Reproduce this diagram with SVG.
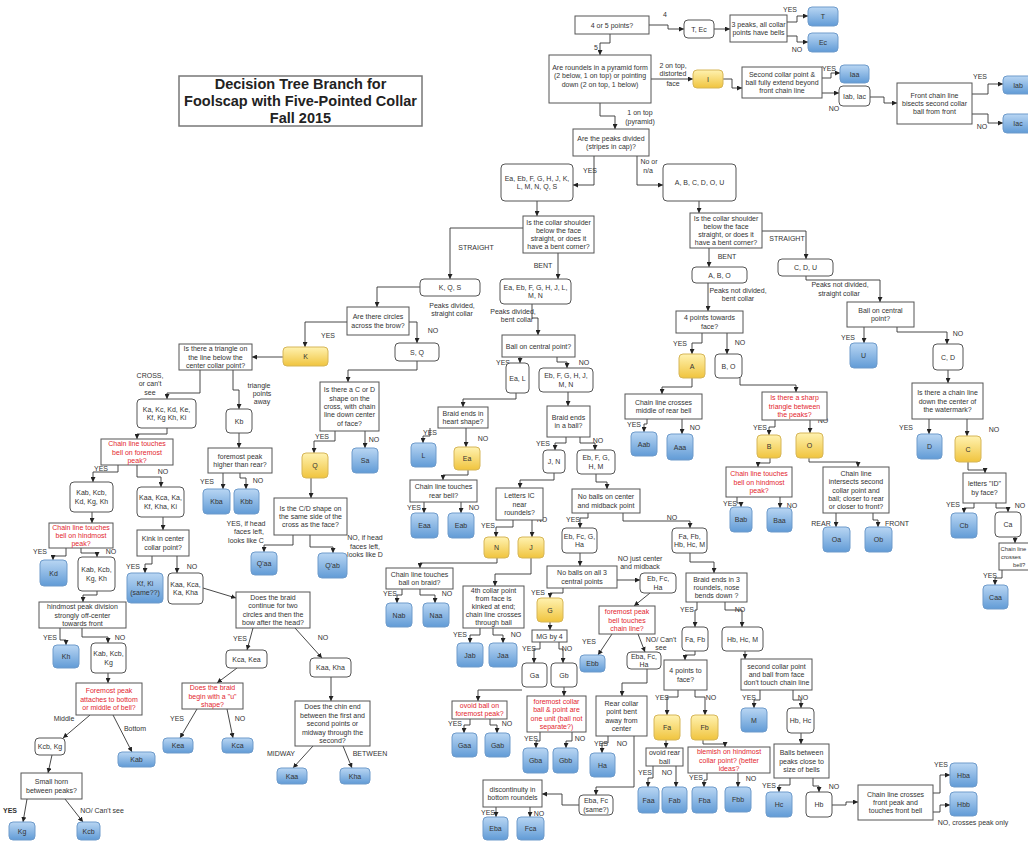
<svg xmlns="http://www.w3.org/2000/svg" width="1028" height="842" viewBox="0 0 1028 842">
<defs>
<linearGradient id="gb" x1="0" y1="0" x2="0" y2="1"><stop offset="0" stop-color="#b9d6f3"/><stop offset="1" stop-color="#619bd6"/></linearGradient>
<linearGradient id="gy" x1="0" y1="0" x2="0" y2="1"><stop offset="0" stop-color="#fff2b0"/><stop offset="1" stop-color="#f0c43e"/></linearGradient>
<marker id="ar" viewBox="0 0 6 6" refX="6" refY="3" markerWidth="5" markerHeight="5" markerUnits="userSpaceOnUse" orient="auto"><path d="M0,0L6,3L0,6z" fill="#222"/></marker>
<style>
.b{fill:#fff;stroke:#555;stroke-width:1}
.r{fill:#fff;stroke:#555;stroke-width:1;rx:4px;ry:4px}
.lf{fill:url(#gb);stroke:#6e9bcb;stroke-width:1;rx:4px;ry:4px}
.y{fill:url(#gy);stroke:#d6b658;stroke-width:1;rx:4px;ry:4px}
.t,.lb{font-family:"Liberation Sans",Arial,sans-serif;font-size:7px;fill:#333;text-anchor:middle}
.rt{fill:#e3262f}
.st{text-anchor:start;font-size:5.8px}
.ti{font-family:"Liberation Sans",Arial,sans-serif;font-size:14.5px;font-weight:bold;fill:#222;text-anchor:middle}
.bo{font-weight:bold}
#conn path{fill:none;stroke:#333;stroke-width:0.9;marker-end:url(#ar)}
</style>
</defs>
<rect width="1028" height="842" fill="#fff"/>

<g id="title"><rect x="179" y="76" width="243" height="50" fill="#fff" stroke="#777" stroke-width="1.5"/>
<text class="ti"><tspan x="300.5" y="89">Decision Tree Branch for</tspan><tspan x="300.5" y="106">Foolscap with Five-Pointed Collar</tspan><tspan x="300.5" y="123">Fall 2015</tspan></text></g>

<g id="conn">
<path d="M610,34V43H600V55"/>
<path d="M649,25H668V29H684"/>
<path d="M714,29H730"/>
<path d="M787,22H797V16H808"/>
<path d="M787,36H797V42H808"/>
<path d="M651,79H693"/>
<path d="M723,79H732V88H742"/>
<path d="M822,78H831V73H840"/>
<path d="M822,93H839"/>
<path d="M870,97H884V103H897"/>
<path d="M972,94H988V84H1003"/>
<path d="M972,114H988V123H1003"/>
<path d="M600,103V116H615V129"/>
<path d="M594,156V185H573"/>
<path d="M637,156V185H663"/>
<path d="M537,201V216"/>
<path d="M699,201V213"/>
<path d="M523,228H450V279"/>
<path d="M558,253V279"/>
<path d="M709,248V267"/>
<path d="M762,231H806V259"/>
<path d="M708,283V311"/>
<path d="M806,276V280H880V302"/>
<path d="M420,287H377V307"/>
<path d="M532,304V318H538V335"/>
<path d="M347,322H305V347"/>
<path d="M409,322H417V343"/>
<path d="M283,357H252"/>
<path d="M200,370V393H167V399"/>
<path d="M233,370V390H239V409"/>
<path d="M167,428V434H137V439"/>
<path d="M239,433V448"/>
<path d="M118,465V472H93V482"/>
<path d="M137,465V477H161V487"/>
<path d="M223,473V489"/>
<path d="M240,473V478H246V489"/>
<path d="M92,512V523"/>
<path d="M66,548V556H53V560"/>
<path d="M81,548V553H97V557"/>
<path d="M163,517V530"/>
<path d="M152,556V564H145V573"/>
<path d="M177,556V573"/>
<path d="M97,591V595H83V602"/>
<path d="M60,628V640H66V645"/>
<path d="M82,628V637H108V643"/>
<path d="M108,673V683"/>
<path d="M90,715L63,738"/>
<path d="M113,715L132,752"/>
<path d="M52,755L48,773"/>
<path d="M27,799L23,822"/>
<path d="M65,799L83,822"/>
<path d="M203,588L236,598"/>
<path d="M253,628L247,650"/>
<path d="M295,628L322,658"/>
<path d="M237,668L217,683"/>
<path d="M197,709L180,738"/>
<path d="M227,709L233,738"/>
<path d="M331,677V701"/>
<path d="M313,746L293,768"/>
<path d="M343,746L352,768"/>
<path d="M417,361V370H348V382"/>
<path d="M335,431V441H314V453"/>
<path d="M365,431V448"/>
<path d="M311,478V498"/>
<path d="M293,535V545H264V552"/>
<path d="M310,535V547H333V553"/>
<path d="M520,357V363"/>
<path d="M557,357V362H567V368"/>
<path d="M516,393V399H463V407"/>
<path d="M430,428V436H423V443"/>
<path d="M466,428V447"/>
<path d="M468,470V475H443V480"/>
<path d="M424,502V513"/>
<path d="M461,502V513"/>
<path d="M568,392V406"/>
<path d="M566,437V443H555V450"/>
<path d="M580,437V443H595V450"/>
<path d="M554,473V480H520V488"/>
<path d="M513,520V527H496V537"/>
<path d="M532,520V537"/>
<path d="M497,558V563H420V568"/>
<path d="M531,558V574H495V586"/>
<path d="M402,589V595H397V603"/>
<path d="M420,589V595H435V603"/>
<path d="M480,628V635H470V643"/>
<path d="M493,628V635H503V643"/>
<path d="M596,474V482H607V489"/>
<path d="M588,513V518H580V528"/>
<path d="M623,513V521H690V528"/>
<path d="M580,553V566"/>
<path d="M563,588V593H550V598"/>
<path d="M617,580H640"/>
<path d="M550,622V630"/>
<path d="M540,642V649H534V663"/>
<path d="M559,642V649H563V663"/>
<path d="M522,690H478V701"/>
<path d="M564,687V696"/>
<path d="M470,719V725H464V733"/>
<path d="M490,719V725H497V733"/>
<path d="M540,732V741H536V748"/>
<path d="M572,732V741H566V748"/>
<path d="M650,593L634,606"/>
<path d="M612,634L598,655"/>
<path d="M638,634L645,652"/>
<path d="M647,669V683H622V696"/>
<path d="M608,736V743H602V753"/>
<path d="M634,736V787H596V795"/>
<path d="M579,805H562V794H542"/>
<path d="M496,807V817"/>
<path d="M530,807V817"/>
<path d="M690,553V562H714V573"/>
<path d="M697,602V610H695V627"/>
<path d="M725,602V610H742V627"/>
<path d="M695,651V655H685V660"/>
<path d="M745,651V659"/>
<path d="M678,690V697H667V715"/>
<path d="M695,690V697H705V715"/>
<path d="M666,740V748"/>
<path d="M703,740V744H725V747"/>
<path d="M653,766V778H648V787"/>
<path d="M676,766V787"/>
<path d="M707,773V780H704V787"/>
<path d="M738,773V787"/>
<path d="M760,690V700H754V708"/>
<path d="M793,690V700H801V708"/>
<path d="M801,733V744"/>
<path d="M790,778V785H779V792"/>
<path d="M813,778V786H819V792"/>
<path d="M832,805H846V802H858"/>
<path d="M933,793H940V775H950"/>
<path d="M933,812H940V805H950"/>
<path d="M692,378V387H662V394"/>
<path d="M647,419V424H644V432"/>
<path d="M682,419V434"/>
<path d="M702,333V343H692V354"/>
<path d="M727,333V354"/>
<path d="M740,378V385H796V392"/>
<path d="M775,420V427H769V435"/>
<path d="M810,420V433"/>
<path d="M770,458V463H758V467"/>
<path d="M737,497V503H741V507"/>
<path d="M780,497V508"/>
<path d="M809,458V462H858V467"/>
<path d="M836,513V527"/>
<path d="M873,513V520H878V527"/>
<path d="M864,327V343"/>
<path d="M897,327V332H947V344"/>
<path d="M948,370V383"/>
<path d="M929,419V434"/>
<path d="M967,419V436"/>
<path d="M968,462V470H985V473"/>
<path d="M974,503V508H964V513"/>
<path d="M996,503V508H1008V512"/>
<path d="M1015,537V543"/>
<path d="M1002,570V578H995V585"/>
</g>

<g id="labels">
<text class="lb" x="665" y="17">4</text>
<text class="lb" x="596" y="49.5">5</text>
<text class="lb" x="790" y="12">YES</text>
<text class="lb" x="797" y="52">NO</text>
<text class="lb"><tspan x="673" y="67.5">2 on top,</tspan><tspan x="673" y="75.5">distorted</tspan><tspan x="673" y="86">face</tspan></text>
<text class="lb" x="829" y="71">YES</text>
<text class="lb" x="834" y="110.5">NO</text>
<text class="lb" x="980" y="78.5">YES</text>
<text class="lb" x="982" y="128.5">NO</text>
<text class="lb"><tspan x="640" y="114.5">1 on top</tspan><tspan x="640" y="124">(pyramid)</tspan></text>
<text class="lb" x="590" y="172.5">YES</text>
<text class="lb"><tspan x="649" y="163.5">No or</tspan><tspan x="648" y="172.5">n/a</tspan></text>
<text class="lb" x="476" y="249.5">STRAIGHT</text>
<text class="lb" x="543" y="267.5">BENT</text>
<text class="lb" x="727" y="258.5">BENT</text>
<text class="lb" x="787" y="241">STRAIGHT</text>
<text class="lb"><tspan x="738" y="292.5">Peaks not divided,</tspan><tspan x="738" y="301">bent collar</tspan></text>
<text class="lb"><tspan x="840" y="287">Peaks not divided,</tspan><tspan x="839" y="295.5">straight collar</tspan></text>
<text class="lb"><tspan x="452" y="307.5">Peaks divided,</tspan><tspan x="452" y="316">straight collar</tspan></text>
<text class="lb"><tspan x="513" y="313.5">Peaks divided,</tspan><tspan x="517" y="322">bent collar</tspan></text>
<text class="lb" x="328" y="338">YES</text>
<text class="lb" x="433" y="333">NO</text>
<text class="lb"><tspan x="150" y="377.5">CROSS,</tspan><tspan x="150" y="386">or can't</tspan><tspan x="150" y="394.5">see</tspan></text>
<text class="lb"><tspan x="259" y="387.5">triangle</tspan><tspan x="262" y="395.5">points</tspan><tspan x="262" y="404">away</tspan></text>
<text class="lb" x="101" y="471">YES</text>
<text class="lb" x="163" y="474">NO</text>
<text class="lb" x="207" y="484">YES</text>
<text class="lb" x="258" y="483">NO</text>
<text class="lb" x="40" y="554">YES</text>
<text class="lb" x="111" y="554">NO</text>
<text class="lb" x="133" y="568.5">YES</text>
<text class="lb" x="192" y="568.5">NO</text>
<text class="lb"><tspan x="246" y="525.5">YES, if head</tspan><tspan x="249" y="534">faces left,</tspan><tspan x="246" y="543">looks like C</tspan></text>
<text class="lb"><tspan x="365" y="539.5">NO, if head</tspan><tspan x="365" y="548.5">faces left,</tspan><tspan x="365" y="556.5">looks like D</tspan></text>
<text class="lb" x="50" y="639.5">YES</text>
<text class="lb" x="120" y="639.5">NO</text>
<text class="lb" x="64" y="720.5">Middle</text>
<text class="lb" x="135" y="730.5">Bottom</text>
<text class="lb bo" x="10" y="812.5">YES</text>
<text class="lb" x="102" y="812.5">NO/ Can't see</text>
<text class="lb" x="240" y="641">YES</text>
<text class="lb" x="323" y="639.5">NO</text>
<text class="lb" x="177" y="720.5">YES</text>
<text class="lb" x="240" y="720.5">NO</text>
<text class="lb" x="281" y="755.5">MIDWAY</text>
<text class="lb" x="370" y="755.5">BETWEEN</text>
<text class="lb" x="322" y="439">YES</text>
<text class="lb" x="374" y="441.5">NO</text>
<text class="lb" x="503" y="364.5">YES</text>
<text class="lb" x="584" y="364.5">NO</text>
<text class="lb" x="430" y="435">YES</text>
<text class="lb" x="483" y="440.5">NO</text>
<text class="lb" x="414" y="509.5">YES</text>
<text class="lb" x="474" y="509.5">NO</text>
<text class="lb" x="543" y="445.5">YES</text>
<text class="lb" x="598" y="442.5">NO</text>
<text class="lb" x="488" y="527.5">YES</text>
<text class="lb" x="542" y="521.5">NO</text>
<text class="lb" x="390" y="595.5">YES</text>
<text class="lb" x="447" y="595.5">NO</text>
<text class="lb" x="460" y="636.5">YES</text>
<text class="lb" x="516" y="636.5">NO</text>
<text class="lb" x="573" y="521.5">YES</text>
<text class="lb" x="672" y="519.5">NO</text>
<text class="lb" x="538" y="594.5">YES</text>
<text class="lb"><tspan x="640" y="560.5">NO just center</tspan><tspan x="640" y="568.5">and midback</tspan></text>
<text class="lb" x="529" y="650.5">YES</text>
<text class="lb" x="567" y="650.5">NO</text>
<text class="lb" x="455" y="725.5">YES</text>
<text class="lb" x="507" y="725.5">NO</text>
<text class="lb" x="531" y="740.5">YES</text>
<text class="lb" x="580" y="740.5">NO</text>
<text class="lb" x="589" y="643.5">YES</text>
<text class="lb"><tspan x="661" y="641.5">NO/ Can't</tspan><tspan x="661" y="649.5">see</tspan></text>
<text class="lb" x="601" y="745.5">YES</text>
<text class="lb" x="622" y="745.5">NO</text>
<text class="lb" x="488" y="814.5">YES</text>
<text class="lb" x="539" y="815.5">NO</text>
<text class="lb" x="687" y="611.5">YES</text>
<text class="lb" x="740" y="611.5">NO</text>
<text class="lb" x="662" y="699.5">YES</text>
<text class="lb" x="711" y="699.5">NO</text>
<text class="lb" x="645" y="774.5">YES</text>
<text class="lb" x="667" y="774.5">NO</text>
<text class="lb" x="696" y="779.5">YES</text>
<text class="lb" x="751" y="780.5">NO</text>
<text class="lb" x="749" y="699.5">YES</text>
<text class="lb" x="803" y="699.5">NO</text>
<text class="lb" x="769" y="787.5">YES</text>
<text class="lb" x="834" y="788.5">NO</text>
<text class="lb" x="941" y="766.5">YES</text>
<text class="lb" x="973" y="824.5">NO, crosses peak only</text>
<text class="lb" x="634" y="426.5">YES</text>
<text class="lb" x="695" y="429.5">NO</text>
<text class="lb" x="680" y="345.5">YES</text>
<text class="lb" x="740" y="344.5">NO</text>
<text class="lb" x="760" y="429.5">YES</text>
<text class="lb" x="823" y="422.5">NO</text>
<text class="lb" x="730" y="505.5">YES</text>
<text class="lb" x="792" y="507.5">NO</text>
<text class="lb" x="821" y="525.5">REAR</text>
<text class="lb" x="897" y="525.5">FRONT</text>
<text class="lb" x="848" y="339.5">YES</text>
<text class="lb" x="958" y="335.5">NO</text>
<text class="lb" x="906" y="429.5">YES</text>
<text class="lb" x="994" y="431.5">NO</text>
<text class="lb" x="953" y="506.5">YES</text>
<text class="lb" x="1020" y="507.5">NO</text>
<text class="lb" x="990" y="577.5">YES</text>
</g>

<g id="q45"><rect class="b" x="575" y="16" width="74" height="18"/><text class="t" x="612" y="27.5">4 or 5 points?</text></g>
<g id="tec"><rect class="r" x="684" y="20" width="30" height="18"/><text class="t" x="699" y="31.5">T, Ec</text></g>
<g id="pk3"><rect class="b" x="730" y="15" width="57" height="27"/><text class="t"><tspan x="758.5" y="26.85">3 peaks, all collar</tspan><tspan x="758.5" y="35.15">points have bells</tspan></text></g>
<g id="T"><rect class="lf" x="808" y="7" width="30" height="19"/><text class="t" x="823" y="19">T</text></g>
<g id="Ec"><rect class="lf" x="808" y="33" width="30" height="19"/><text class="t" x="823" y="45">Ec</text></g>
<g id="pyr"><rect class="b" x="549" y="55" width="102" height="48"/><text class="t"><tspan x="600" y="70">Are roundels in a pyramid form</tspan><tspan x="600" y="78.3">(2 below, 1 on top) or pointing</tspan><tspan x="600" y="86.6">down (2 on top, 1 below)</tspan></text></g>
<g id="I"><rect class="y" x="693" y="70" width="30" height="18"/><text class="t" x="708" y="81.5">I</text></g>
<g id="sec"><rect class="b" x="742" y="67" width="80" height="31"/><text class="t"><tspan x="782" y="76.7">Second collar point &amp;</tspan><tspan x="782" y="85">ball fully extend beyond</tspan><tspan x="782" y="93.3">front chain line</tspan></text></g>
<g id="Iaa"><rect class="lf" x="840" y="65" width="29" height="18"/><text class="t" x="854.5" y="76.5">Iaa</text></g>
<g id="iabiac"><rect class="r" x="839" y="86" width="31" height="20"/><text class="t" x="854.5" y="98.5">Iab, Iac</text></g>
<g id="front"><rect class="b" x="897" y="83" width="75" height="41"/><text class="t"><tspan x="934.5" y="97.7">Front chain line</tspan><tspan x="934.5" y="106">bisects second collar</tspan><tspan x="934.5" y="114.3">ball from front</tspan></text></g>
<g id="Iab"><rect class="lf" x="1003" y="76" width="30" height="18"/><text class="t" x="1018" y="87.5">Iab</text></g>
<g id="Iac"><rect class="lf" x="1003" y="114" width="30" height="19"/><text class="t" x="1018" y="126">Iac</text></g>
<g id="peaks"><rect class="b" x="573" y="129" width="76" height="27"/><text class="t"><tspan x="611" y="140.85">Are the peaks divided</tspan><tspan x="611" y="149.15">(stripes in cap)?</tspan></text></g>
<g id="eaeb"><rect class="r" x="501" y="164" width="72" height="37"/><text class="t"><tspan x="537" y="180.85">Ea, Eb, F, G, H, J, K,</tspan><tspan x="537" y="189.15">L, M, N, Q, S</tspan></text></g>
<g id="abcdou"><rect class="r" x="663" y="164" width="73" height="37"/><text class="t" x="699.5" y="185">A, B, C, D, O, U</text></g>
<g id="colL"><rect class="b" x="523" y="216" width="71" height="37"/><text class="t"><tspan x="558.5" y="224.55">Is the collar shoulder</tspan><tspan x="558.5" y="232.85">below the face</tspan><tspan x="558.5" y="241.15">straight, or does it</tspan><tspan x="558.5" y="249.45">have a bent corner?</tspan></text></g>
<g id="colR"><rect class="b" x="690" y="213" width="72" height="35"/><text class="t"><tspan x="726" y="220.55">Is the collar shoulder</tspan><tspan x="726" y="228.85">below the face</tspan><tspan x="726" y="237.15">straight, or does it</tspan><tspan x="726" y="245.45">have a bent corner?</tspan></text></g>
<g id="kqs"><rect class="r" x="420" y="279" width="60" height="17"/><text class="t" x="450" y="290">K, Q, S</text></g>
<g id="eabent"><rect class="r" x="500" y="279" width="71" height="25"/><text class="t"><tspan x="535.5" y="289.85">Ea, Eb, F, G, H, J, L,</tspan><tspan x="535.5" y="298.15">M, N</tspan></text></g>
<g id="cdu"><rect class="r" x="778" y="259" width="55" height="17"/><text class="t" x="805.5" y="270">C, D, U</text></g>
<g id="abo"><rect class="r" x="692" y="267" width="55" height="16"/><text class="t" x="719.5" y="277.5">A, B, O</text></g>
<g id="circles"><rect class="b" x="347" y="307" width="62" height="28"/><text class="t"><tspan x="378" y="319.35">Are there circles</tspan><tspan x="378" y="327.65">across the brow?</tspan></text></g>
<g id="K"><rect class="y" x="283" y="347" width="45" height="19"/><text class="t" x="305.5" y="359">K</text></g>
<g id="sq"><rect class="r" x="395" y="343" width="44" height="18"/><text class="t" x="417" y="354.5">S, Q</text></g>
<g id="tri"><rect class="b" x="179" y="344" width="73" height="26"/><text class="t"><tspan x="215.5" y="351.2">Is there a triangle on</tspan><tspan x="215.5" y="359.5">the line below the</tspan><tspan x="215.5" y="367.8">center collar point?</tspan></text></g>
<g id="kaK"><rect class="r" x="137" y="399" width="59" height="29"/><text class="t"><tspan x="166.5" y="411.85">Ka, Kc, Kd, Ke,</tspan><tspan x="166.5" y="420.15">Kf, Kg Kh, Ki</tspan></text></g>
<g id="kb"><rect class="r" x="226" y="409" width="26" height="24"/><text class="t" x="239" y="423.5">Kb</text></g>
<g id="chf"><rect class="b" x="101" y="439" width="72" height="26"/><text class="t rt"><tspan x="137" y="446.2">Chain line touches</tspan><tspan x="137" y="454.5">bell on foremost</tspan><tspan x="137" y="462.8">peak?</tspan></text></g>
<g id="fph"><rect class="b" x="208" y="448" width="64" height="25"/><text class="t"><tspan x="240" y="458.85">foremost peak</tspan><tspan x="240" y="467.15">higher than rear?</tspan></text></g>
<g id="kab5"><rect class="r" x="70" y="482" width="43" height="30"/><text class="t"><tspan x="91.5" y="495.35">Kab, Kcb,</tspan><tspan x="91.5" y="503.65">Kd, Kg, Kh</tspan></text></g>
<g id="kaa6"><rect class="r" x="137" y="487" width="47" height="30"/><text class="t"><tspan x="160.5" y="500.35">Kaa, Kca, Ka,</tspan><tspan x="160.5" y="508.65">Kf, Kha, Ki</tspan></text></g>
<g id="Kba"><rect class="lf" x="203" y="489" width="27" height="25"/><text class="t" x="216.5" y="504">Kba</text></g>
<g id="Kbb"><rect class="lf" x="234" y="489" width="25" height="25"/><text class="t" x="246.5" y="504">Kbb</text></g>
<g id="chh"><rect class="b" x="49" y="523" width="64" height="25"/><text class="t rt"><tspan x="81" y="529.7">Chain line touches</tspan><tspan x="81" y="538">bell on hindmost</tspan><tspan x="81" y="546.3">peak?</tspan></text></g>
<g id="kink"><rect class="b" x="137" y="530" width="52" height="26"/><text class="t"><tspan x="163" y="541.35">Kink in center</tspan><tspan x="163" y="549.65">collar point?</tspan></text></g>
<g id="Kd"><rect class="lf" x="40" y="560" width="27" height="26"/><text class="t" x="53.5" y="575.5">Kd</text></g>
<g id="kab4"><rect class="r" x="78" y="557" width="37" height="34"/><text class="t"><tspan x="96.5" y="572.35">Kab, Kcb,</tspan><tspan x="96.5" y="580.65">Kg, Kh</tspan></text></g>
<g id="kfki"><rect class="lf" x="127" y="573" width="36" height="30"/><text class="t"><tspan x="145" y="586.35">Kf, Ki</tspan><tspan x="145" y="594.65">(same??)</tspan></text></g>
<g id="kaa4"><rect class="r" x="168" y="573" width="35" height="31"/><text class="t"><tspan x="185.5" y="586.85">Kaa, Kca,</tspan><tspan x="185.5" y="595.15">Ka, Kha</tspan></text></g>
<g id="braid2"><rect class="b" x="236" y="592" width="74" height="36"/><text class="t"><tspan x="273" y="600.05">Does the braid</tspan><tspan x="273" y="608.35">continue for two</tspan><tspan x="273" y="616.65">circles and then the</tspan><tspan x="273" y="624.95">bow after the head?</tspan></text></g>
<g id="kcakea"><rect class="r" x="226" y="650" width="41" height="18"/><text class="t" x="246.5" y="661.5">Kca, Kea</text></g>
<g id="kaakha"><rect class="r" x="310" y="658" width="41" height="19"/><text class="t" x="330.5" y="670">Kaa, Kha</text></g>
<g id="braidU"><rect class="b" x="182" y="683" width="61" height="26"/><text class="t rt"><tspan x="212.5" y="690.2">Does the braid</tspan><tspan x="212.5" y="698.5">begin with a "u"</tspan><tspan x="212.5" y="706.8">shape?</tspan></text></g>
<g id="Kea"><rect class="lf" x="163" y="738" width="30" height="15"/><text class="t" x="178" y="748">Kea</text></g>
<g id="Kca"><rect class="lf" x="222" y="738" width="31" height="15"/><text class="t" x="237.5" y="748">Kca</text></g>
<g id="chin"><rect class="b" x="295" y="701" width="75" height="45"/><text class="t"><tspan x="332.5" y="709">Does the chin end</tspan><tspan x="332.5" y="717.5">between the first and</tspan><tspan x="332.5" y="726">second points or</tspan><tspan x="332.5" y="734.5">midway through the</tspan><tspan x="332.5" y="743">second?</tspan></text></g>
<g id="Kaa"><rect class="lf" x="277" y="768" width="30" height="16"/><text class="t" x="292" y="778.5">Kaa</text></g>
<g id="Kha"><rect class="lf" x="340" y="768" width="30" height="16"/><text class="t" x="355" y="778.5">Kha</text></g>
<g id="hind"><rect class="b" x="39" y="602" width="87" height="26"/><text class="t"><tspan x="82.5" y="609.2">hindmost peak division</tspan><tspan x="82.5" y="617.5">strongly off-center</tspan><tspan x="82.5" y="625.8">towards front</tspan></text></g>
<g id="Kh"><rect class="lf" x="53" y="645" width="26" height="23"/><text class="t" x="66" y="659">Kh</text></g>
<g id="kab3"><rect class="r" x="91" y="643" width="35" height="30"/><text class="t"><tspan x="108.5" y="656.35">Kab, Kcb,</tspan><tspan x="108.5" y="664.65">Kg</tspan></text></g>
<g id="fpa"><rect class="b" x="76" y="683" width="66" height="32"/><text class="t rt"><tspan x="109" y="693.2">Foremost peak</tspan><tspan x="109" y="701.5">attaches to bottom</tspan><tspan x="109" y="709.8">or middle of bell?</tspan></text></g>
<g id="kcbkg"><rect class="r" x="35" y="738" width="30" height="17"/><text class="t" x="50" y="749">Kcb, Kg</text></g>
<g id="Kab"><rect class="lf" x="118" y="752" width="37" height="15"/><text class="t" x="136.5" y="762">Kab</text></g>
<g id="horn"><rect class="b" x="21" y="773" width="61" height="26"/><text class="t"><tspan x="51.5" y="784.35">Small horn</tspan><tspan x="51.5" y="792.65">between peaks?</tspan></text></g>
<g id="Kg"><rect class="lf" x="9" y="822" width="26" height="18"/><text class="t" x="22" y="833.5">Kg</text></g>
<g id="Kcb"><rect class="lf" x="77" y="822" width="23" height="18"/><text class="t" x="88.5" y="833.5">Kcb</text></g>
<g id="cord"><rect class="b" x="320" y="382" width="59" height="49"/><text class="t"><tspan x="349.5" y="392.4">Is there a C or D</tspan><tspan x="349.5" y="400.7">shape on the</tspan><tspan x="349.5" y="409">cross, with chain</tspan><tspan x="349.5" y="417.3">line down center</tspan><tspan x="349.5" y="425.6">of face?</tspan></text></g>
<g id="Q"><rect class="y" x="302" y="453" width="26" height="25"/><text class="t" x="315" y="468">Q</text></g>
<g id="Sa"><rect class="lf" x="352" y="448" width="26" height="25"/><text class="t" x="365" y="463">Sa</text></g>
<g id="cdside"><rect class="b" x="274" y="498" width="73" height="37"/><text class="t"><tspan x="310.5" y="510.7">Is the C/D shape on</tspan><tspan x="310.5" y="519">the same side of the</tspan><tspan x="310.5" y="527.3">cross as the face?</tspan></text></g>
<g id="Qaa"><rect class="lf" x="251" y="552" width="26" height="23"/><text class="t" x="264" y="566">Q'aa</text></g>
<g id="Qab"><rect class="lf" x="318" y="553" width="29" height="25"/><text class="t" x="332.5" y="568">Q'ab</text></g>
<g id="ballC"><rect class="b" x="502" y="335" width="73" height="22"/><text class="t" x="538.5" y="348.5">Ball on central point?</text></g>
<g id="eal"><rect class="r" x="506" y="363" width="23" height="30"/><text class="t" x="517.5" y="380.5">Ea, L</text></g>
<g id="ebfg7"><rect class="r" x="539" y="368" width="54" height="24"/><text class="t"><tspan x="566" y="378.35">Eb, F, G, H, J,</tspan><tspan x="566" y="386.65">M, N</tspan></text></g>
<g id="heart"><rect class="b" x="438" y="407" width="50" height="21"/><text class="t"><tspan x="463" y="415.85">Braid ends in</tspan><tspan x="463" y="424.15">heart shape?</tspan></text></g>
<g id="L"><rect class="lf" x="411" y="443" width="25" height="24"/><text class="t" x="423.5" y="457.5">L</text></g>
<g id="Ea"><rect class="y" x="454" y="447" width="26" height="23"/><text class="t" x="467" y="461">Ea</text></g>
<g id="rearbell"><rect class="b" x="410" y="480" width="67" height="22"/><text class="t"><tspan x="443.5" y="489.35">Chain line touches</tspan><tspan x="443.5" y="497.65">rear bell?</tspan></text></g>
<g id="Eaa"><rect class="lf" x="411" y="513" width="27" height="25"/><text class="t" x="424.5" y="528">Eaa</text></g>
<g id="Eab"><rect class="lf" x="448" y="513" width="26" height="25"/><text class="t" x="461" y="528">Eab</text></g>
<g id="bball"><rect class="b" x="547" y="406" width="43" height="31"/><text class="t"><tspan x="568.5" y="419.85">Braid ends</tspan><tspan x="568.5" y="428.15">in a ball?</tspan></text></g>
<g id="jn"><rect class="r" x="543" y="450" width="22" height="23"/><text class="t" x="554" y="464">J, N</text></g>
<g id="ebfg5"><rect class="r" x="577" y="450" width="38" height="24"/><text class="t"><tspan x="596" y="460.35">Eb, F, G,</tspan><tspan x="596" y="468.65">H, M</tspan></text></g>
<g id="letters"><rect class="b" x="496" y="488" width="47" height="32"/><text class="t"><tspan x="519.5" y="498.2">Letters IC</tspan><tspan x="519.5" y="506.5">near</tspan><tspan x="519.5" y="514.8">roundels?</tspan></text></g>
<g id="N"><rect class="y" x="484" y="537" width="25" height="21"/><text class="t" x="496.5" y="550">N</text></g>
<g id="J"><rect class="y" x="518" y="537" width="26" height="21"/><text class="t" x="531" y="550">J</text></g>
<g id="chball"><rect class="b" x="386" y="568" width="67" height="21"/><text class="t"><tspan x="419.5" y="576.85">Chain line touches</tspan><tspan x="419.5" y="585.15">ball on braid?</tspan></text></g>
<g id="Nab"><rect class="lf" x="386" y="603" width="26" height="24"/><text class="t" x="399" y="617.5">Nab</text></g>
<g id="Naa"><rect class="lf" x="423" y="603" width="26" height="24"/><text class="t" x="436" y="617.5">Naa</text></g>
<g id="fourth"><rect class="b" x="463" y="586" width="61" height="42"/><text class="t"><tspan x="493.5" y="592.5">4th collar point</tspan><tspan x="493.5" y="600.5">from face is</tspan><tspan x="493.5" y="608.5">kinked at end;</tspan><tspan x="493.5" y="616.5">chain line crosses</tspan><tspan x="493.5" y="624.5">through ball</tspan></text></g>
<g id="Jab"><rect class="lf" x="457" y="643" width="26" height="24"/><text class="t" x="470" y="657.5">Jab</text></g>
<g id="Jaa"><rect class="lf" x="489" y="643" width="28" height="24"/><text class="t" x="503" y="657.5">Jaa</text></g>
<g id="nomid"><rect class="b" x="572" y="489" width="68" height="24"/><text class="t"><tspan x="606" y="499.35">No balls on center</tspan><tspan x="606" y="507.65">and midback point</tspan></text></g>
<g id="ebfcg"><rect class="r" x="562" y="528" width="35" height="25"/><text class="t"><tspan x="579.5" y="538.85">Eb, Fc, G,</tspan><tspan x="579.5" y="547.15">Ha</tspan></text></g>
<g id="fafb5"><rect class="r" x="672" y="528" width="35" height="25"/><text class="t"><tspan x="689.5" y="538.85">Fa, Fb,</tspan><tspan x="689.5" y="547.15">Hb, Hc, M</tspan></text></g>
<g id="noall3"><rect class="b" x="547" y="566" width="70" height="22"/><text class="t"><tspan x="582" y="575.35">No balls on all 3</tspan><tspan x="582" y="583.65">central points</tspan></text></g>
<g id="G"><rect class="y" x="537" y="598" width="26" height="24"/><text class="t" x="550" y="612.5">G</text></g>
<g id="mg4"><rect class="b" x="532" y="630" width="35" height="12"/><text class="t" x="549.5" y="638.5">MG by 4</text></g>
<g id="Ga"><rect class="r" x="522" y="663" width="25" height="24"/><text class="t" x="534.5" y="677.5">Ga</text></g>
<g id="Gb"><rect class="r" x="551" y="663" width="26" height="24"/><text class="t" x="564" y="677.5">Gb</text></g>
<g id="ovoid"><rect class="b" x="452" y="701" width="55" height="18"/><text class="t rt"><tspan x="479.5" y="708">ovoid ball on</tspan><tspan x="479.5" y="716">foremost peak?</tspan></text></g>
<g id="Gaa"><rect class="lf" x="452" y="733" width="25" height="24"/><text class="t" x="464.5" y="747.5">Gaa</text></g>
<g id="Gab"><rect class="lf" x="485" y="733" width="25" height="24"/><text class="t" x="497.5" y="747.5">Gab</text></g>
<g id="fcb"><rect class="b" x="527" y="696" width="59" height="36"/><text class="t rt"><tspan x="556.5" y="704.05">foremost collar</tspan><tspan x="556.5" y="712.35">ball &amp; point are</tspan><tspan x="556.5" y="720.65">one unit (ball not</tspan><tspan x="556.5" y="728.95">separate?)</tspan></text></g>
<g id="Gba"><rect class="lf" x="523" y="748" width="25" height="25"/><text class="t" x="535.5" y="763">Gba</text></g>
<g id="Gbb"><rect class="lf" x="553" y="748" width="25" height="25"/><text class="t" x="565.5" y="763">Gbb</text></g>
<g id="ebfcha"><rect class="r" x="640" y="573" width="36" height="20"/><text class="t"><tspan x="658" y="581.35">Eb, Fc,</tspan><tspan x="658" y="589.65">Ha</tspan></text></g>
<g id="fpbell"><rect class="b" x="599" y="606" width="56" height="28"/><text class="t rt"><tspan x="627" y="614.2">foremost peak</tspan><tspan x="627" y="622.5">bell touches</tspan><tspan x="627" y="630.8">chain line?</tspan></text></g>
<g id="Ebb"><rect class="lf" x="580" y="655" width="25" height="17"/><text class="t" x="592.5" y="666">Ebb</text></g>
<g id="ebafcha"><rect class="r" x="627" y="652" width="34" height="17"/><text class="t"><tspan x="644" y="659">Eba, Fc,</tspan><tspan x="644" y="666.5">Ha</tspan></text></g>
<g id="rear"><rect class="b" x="596" y="696" width="51" height="40"/><text class="t"><tspan x="621.5" y="706.05">Rear collar</tspan><tspan x="621.5" y="714.35">point bent</tspan><tspan x="621.5" y="722.65">away from</tspan><tspan x="621.5" y="730.95">center</tspan></text></g>
<g id="Ha"><rect class="lf" x="590" y="753" width="25" height="24"/><text class="t" x="602.5" y="767.5">Ha</text></g>
<g id="ebafc"><rect class="r" x="579" y="795" width="34" height="20"/><text class="t"><tspan x="596" y="803.35">Eba, Fc</tspan><tspan x="596" y="811.65">(same?)</tspan></text></g>
<g id="disc"><rect class="b" x="483" y="780" width="59" height="27"/><text class="t"><tspan x="512.5" y="791.85">discontinuity in</tspan><tspan x="512.5" y="800.15">bottom roundels</tspan></text></g>
<g id="Eba"><rect class="lf" x="483" y="817" width="25" height="23"/><text class="t" x="495.5" y="831">Eba</text></g>
<g id="Fca"><rect class="lf" x="517" y="817" width="27" height="23"/><text class="t" x="530.5" y="831">Fca</text></g>
<g id="braid3"><rect class="b" x="686" y="573" width="61" height="29"/><text class="t"><tspan x="716.5" y="581.7">Braid ends in 3</tspan><tspan x="716.5" y="590">roundels, nose</tspan><tspan x="716.5" y="598.3">bends down ?</tspan></text></g>
<g id="fafb"><rect class="r" x="682" y="627" width="26" height="24"/><text class="t" x="695" y="641.5">Fa, Fb</text></g>
<g id="hbhcm"><rect class="r" x="722" y="627" width="41" height="24"/><text class="t" x="742.5" y="641.5">Hb, Hc, M</text></g>
<g id="pts4"><rect class="b" x="664" y="660" width="43" height="30"/><text class="t"><tspan x="685.5" y="673.35">4 points to</tspan><tspan x="685.5" y="681.65">face?</tspan></text></g>
<g id="Fa"><rect class="y" x="654" y="715" width="26" height="25"/><text class="t" x="667" y="730">Fa</text></g>
<g id="Fb"><rect class="y" x="691" y="715" width="27" height="25"/><text class="t" x="704.5" y="730">Fb</text></g>
<g id="sc2"><rect class="b" x="741" y="659" width="71" height="31"/><text class="t"><tspan x="776.5" y="668.7">second collar point</tspan><tspan x="776.5" y="677">and ball from face</tspan><tspan x="776.5" y="685.3">don't touch chain line</tspan></text></g>
<g id="M"><rect class="lf" x="741" y="708" width="26" height="24"/><text class="t" x="754" y="722.5">M</text></g>
<g id="hbhc"><rect class="r" x="787" y="708" width="27" height="25"/><text class="t" x="800.5" y="723">Hb, Hc</text></g>
<g id="bells"><rect class="b" x="774" y="744" width="55" height="34"/><text class="t"><tspan x="801.5" y="755.2">Balls between</tspan><tspan x="801.5" y="763.5">peaks close to</tspan><tspan x="801.5" y="771.8">size of bells</tspan></text></g>
<g id="Hc"><rect class="lf" x="766" y="792" width="26" height="25"/><text class="t" x="779" y="807">Hc</text></g>
<g id="Hb"><rect class="r" x="806" y="792" width="26" height="25"/><text class="t" x="819" y="807">Hb</text></g>
<g id="crosses"><rect class="b" x="858" y="785" width="75" height="35"/><text class="t"><tspan x="895.5" y="796.7">Chain line crosses</tspan><tspan x="895.5" y="805">front peak and</tspan><tspan x="895.5" y="813.3">touches front bell</tspan></text></g>
<g id="Hba"><rect class="lf" x="950" y="763" width="27" height="24"/><text class="t" x="963.5" y="777.5">Hba</text></g>
<g id="Hbb"><rect class="lf" x="950" y="792" width="27" height="24"/><text class="t" x="963.5" y="806.5">Hbb</text></g>
<g id="ovrear"><rect class="b" x="646" y="748" width="37" height="18"/><text class="t"><tspan x="664.5" y="755.35">ovoid rear</tspan><tspan x="664.5" y="763.65">ball</tspan></text></g>
<g id="Faa"><rect class="lf" x="638" y="787" width="21" height="26"/><text class="t" x="648.5" y="802.5">Faa</text></g>
<g id="Fab"><rect class="lf" x="662" y="787" width="25" height="26"/><text class="t" x="674.5" y="802.5">Fab</text></g>
<g id="blem"><rect class="b" x="688" y="747" width="82" height="26"/><text class="t rt"><tspan x="729" y="754.2">blemish on hindmost</tspan><tspan x="729" y="762.5">collar point? (better</tspan><tspan x="729" y="770.8">ideas?</tspan></text></g>
<g id="Fba"><rect class="lf" x="692" y="787" width="25" height="26"/><text class="t" x="704.5" y="802.5">Fba</text></g>
<g id="Fbb"><rect class="lf" x="725" y="787" width="26" height="25"/><text class="t" x="738" y="802">Fbb</text></g>
<g id="pts4face"><rect class="b" x="676" y="311" width="67" height="22"/><text class="t"><tspan x="709.5" y="320.35">4 points towards</tspan><tspan x="709.5" y="328.65">face?</tspan></text></g>
<g id="A"><rect class="y" x="679" y="354" width="26" height="24"/><text class="t" x="692" y="368.5">A</text></g>
<g id="bo"><rect class="r" x="715" y="354" width="27" height="24"/><text class="t" x="728.5" y="368.5">B, O</text></g>
<g id="chmid"><rect class="b" x="625" y="394" width="77" height="25"/><text class="t"><tspan x="663.5" y="404.85">Chain line crosses</tspan><tspan x="663.5" y="413.15">middle of rear bell</tspan></text></g>
<g id="Aab"><rect class="lf" x="631" y="432" width="26" height="24"/><text class="t" x="644" y="446.5">Aab</text></g>
<g id="Aaa"><rect class="lf" x="667" y="434" width="26" height="26"/><text class="t" x="680" y="449.5">Aaa</text></g>
<g id="sharp"><rect class="b" x="762" y="392" width="65" height="28"/><text class="t rt"><tspan x="794.5" y="400.2">Is there a sharp</tspan><tspan x="794.5" y="408.5">triangle between</tspan><tspan x="794.5" y="416.8">the peaks?</tspan></text></g>
<g id="B"><rect class="y" x="757" y="435" width="24" height="23"/><text class="t" x="769" y="449">B</text></g>
<g id="O"><rect class="y" x="796" y="433" width="27" height="25"/><text class="t" x="809.5" y="448">O</text></g>
<g id="chhB"><rect class="b" x="726" y="467" width="66" height="30"/><text class="t rt"><tspan x="759" y="476.2">Chain line touches</tspan><tspan x="759" y="484.5">bell on hindmost</tspan><tspan x="759" y="492.8">peak?</tspan></text></g>
<g id="Bab"><rect class="lf" x="730" y="507" width="22" height="25"/><text class="t" x="741" y="522">Bab</text></g>
<g id="Baa"><rect class="lf" x="767" y="508" width="25" height="24"/><text class="t" x="779.5" y="522.5">Baa</text></g>
<g id="inter"><rect class="b" x="823" y="467" width="66" height="46"/><text class="t"><tspan x="856" y="475.9">Chain line</tspan><tspan x="856" y="484.2">intersects second</tspan><tspan x="856" y="492.5">collar point and</tspan><tspan x="856" y="500.8">ball; closer to rear</tspan><tspan x="856" y="509.1">or closer to front?</tspan></text></g>
<g id="Oa"><rect class="lf" x="823" y="527" width="27" height="25"/><text class="t" x="836.5" y="542">Oa</text></g>
<g id="Ob"><rect class="lf" x="865" y="527" width="27" height="25"/><text class="t" x="878.5" y="542">Ob</text></g>
<g id="ballR"><rect class="b" x="847" y="302" width="67" height="25"/><text class="t"><tspan x="880.5" y="312.85">Ball on central</tspan><tspan x="880.5" y="321.15">point?</tspan></text></g>
<g id="U"><rect class="lf" x="850" y="343" width="27" height="25"/><text class="t" x="863.5" y="358">U</text></g>
<g id="cd"><rect class="r" x="933" y="344" width="30" height="26"/><text class="t" x="948" y="359.5">C, D</text></g>
<g id="wm"><rect class="b" x="912" y="383" width="71" height="36"/><text class="t"><tspan x="947.5" y="395.2">Is there a chain line</tspan><tspan x="947.5" y="403.5">down the center of</tspan><tspan x="947.5" y="411.8">the watermark?</tspan></text></g>
<g id="D"><rect class="lf" x="917" y="434" width="25" height="25"/><text class="t" x="929.5" y="449">D</text></g>
<g id="C"><rect class="y" x="955" y="436" width="26" height="26"/><text class="t" x="968" y="451.5">C</text></g>
<g id="lid"><rect class="b" x="963" y="473" width="43" height="30"/><text class="t"><tspan x="984.5" y="486.35">letters "ID"</tspan><tspan x="984.5" y="494.65">by face?</tspan></text></g>
<g id="Cb"><rect class="lf" x="951" y="513" width="26" height="25"/><text class="t" x="964" y="528">Cb</text></g>
<g id="Ca"><rect class="r" x="995" y="512" width="26" height="25"/><text class="t" x="1008" y="527">Ca</text></g>
<g id="chcb"><rect class="b" x="999" y="543" width="50" height="27"/><text class="t st"><tspan x="1000.5" y="550.7">Chain line</tspan><tspan x="1001" y="559">crosses</tspan><tspan x="1013" y="567.3">bell?</tspan></text></g>
<g id="Caa"><rect class="lf" x="983" y="585" width="25" height="24"/><text class="t" x="995.5" y="599.5">Caa</text></g>
</svg>
